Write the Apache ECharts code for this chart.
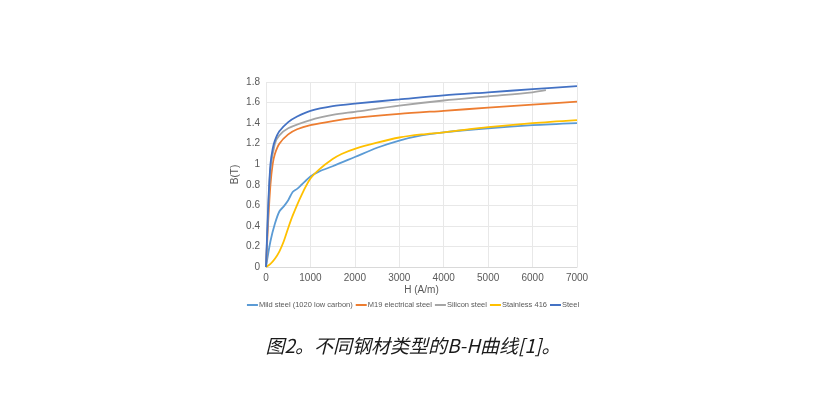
<!DOCTYPE html>
<html><head><meta charset="utf-8">
<script src="https://cdn.jsdelivr.net/npm/echarts@6/dist/echarts.min.js"></script>
<style>html,body{margin:0;padding:0;background:#fff}#c{width:826px;height:418px}</style>
</head><body><div id="c"></div>
<script>
const seriesNames = ['Mild steel (1020 low carbon)','M19 electrical steel','Silicon steel','Stainless 416','Steel'];
const colors = ['#5B9BD5','#ED7D31','#A5A5A5','#FFC000','#4472C4'];
const xTicks = [0,1000,2000,3000,4000,5000,6000,7000];
const mildH = [0,100,200,300,400,500,600,700,800,1000,1200,1500,2000,2500,3000,3500,4000,5000,6000,7000];
const mildB = [0,0.25,0.42,0.54,0.59,0.65,0.73,0.76,0.8,0.88,0.93,0.98,1.07,1.16,1.23,1.28,1.31,1.35,1.38,1.40];
const m19H = [0,50,100,150,200,300,500,700,1000,1500,2000,3000,4000,5000,6000,7000];
const m19B = [0,0.45,0.8,1.0,1.1,1.2,1.29,1.34,1.38,1.42,1.45,1.49,1.52,1.55,1.58,1.61];
const siH = [0,50,100,200,300,500,1000,1500,2000,3000,4000,5000,6000,6300];
const siB = [0,0.55,0.95,1.2,1.28,1.35,1.43,1.48,1.51,1.57,1.62,1.66,1.70,1.72];
const ssH = [0,100,200,300,400,500,600,800,1000,1200,1500,1700,2000,2500,3000,3500,4000,5000,6000,7000];
const ssB = [0,0.03,0.08,0.15,0.25,0.38,0.5,0.7,0.86,0.95,1.05,1.1,1.15,1.21,1.26,1.29,1.31,1.36,1.40,1.43];
const stH = [0,50,100,150,200,300,500,700,1000,1500,2000,3000,4000,5000,6000,7000];
const stB = [0,0.6,1.0,1.15,1.23,1.32,1.41,1.465,1.52,1.565,1.59,1.63,1.67,1.70,1.73,1.76];
const caption = '图2。不同钢材类型的B-H曲线[1]。';

const pairs = (h,b)=>h.map((v,i)=>[v,b[i]]);
const dataSets = [pairs(mildH,mildB),pairs(m19H,m19B),pairs(siH,siB),pairs(ssH,ssB),pairs(stH,stB)];
const chart = echarts.init(document.getElementById('c'));
const font = '"Liberation Sans", Arial, sans-serif';
chart.setOption({
  animation:false,
  color: colors,
  textStyle:{fontFamily:font},
  title:{text:caption,left:'center',top:331,textStyle:{fontFamily:'"Noto Sans CJK SC", sans-serif',fontStyle:'italic',fontWeight:'normal',fontSize:19,color:'#1a1a1a'}},
  grid:{left:266,right:249,top:82,bottom:151},
  legend:{bottom:104,left:'center',icon:'rect',itemWidth:11,itemHeight:2,itemGap:3,
    textStyle:{fontSize:7.5,color:'#595959',padding:[0,0,0,-4]},data:seriesNames},
  xAxis:{type:'value',min:0,max:7000,interval:1000,name:'H (A/m)',nameLocation:'middle',nameGap:18,
    nameTextStyle:{fontSize:10,color:'#595959'},
    axisLine:{show:true,lineStyle:{color:'#d9d9d9'}},axisTick:{show:false},
    axisLabel:{fontSize:10,color:'#595959',margin:6,formatter:v=>String(v)},
    splitLine:{show:true,lineStyle:{color:'#e8e8e8'}}},
  yAxis:{type:'value',min:0,max:1.8,interval:0.2,name:'B(T)',nameLocation:'middle',nameGap:26,
    nameTextStyle:{fontSize:10,color:'#595959'},
    axisLine:{show:false},axisTick:{show:false},
    axisLabel:{fontSize:10,color:'#595959',margin:6,formatter:v=>String(Math.round(v*10)/10)},
    splitLine:{show:true,lineStyle:{color:'#e8e8e8'}}},
  series: seriesNames.map((n,i)=>({name:n,type:'line',data:dataSets[i],smooth:0.3,showSymbol:false,
    lineStyle:{width:1.8,color:colors[i]},itemStyle:{color:colors[i]}}))
});
</script></body></html>
